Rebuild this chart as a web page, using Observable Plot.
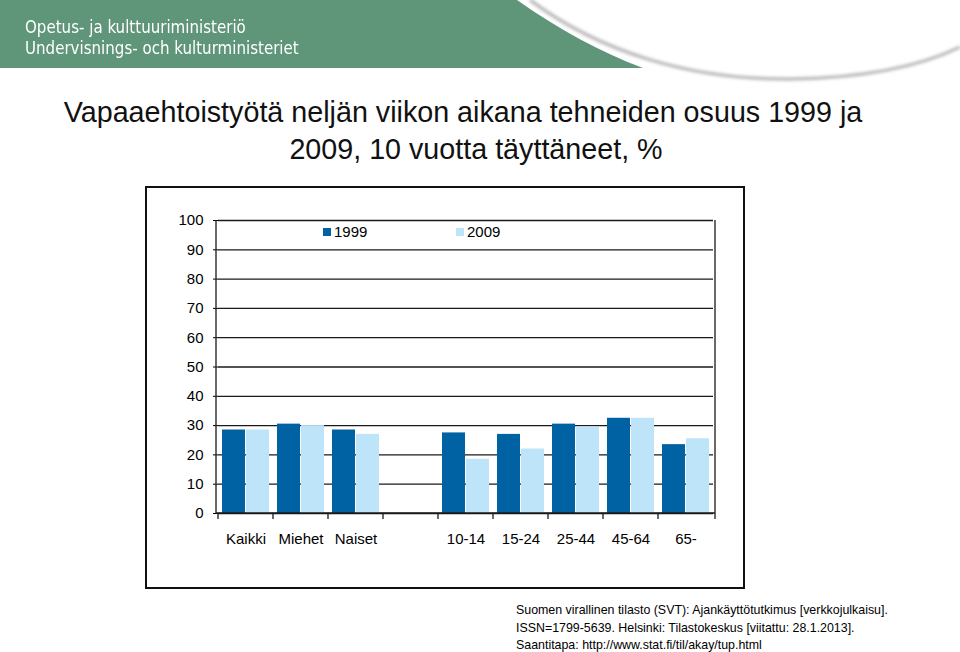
<!DOCTYPE html>
<html><head><meta charset="utf-8">
<script src="https://cdn.jsdelivr.net/npm/d3@7"></script>
<script src="https://cdn.jsdelivr.net/npm/@observablehq/plot@0.6"></script>
<style>
html,body{margin:0;padding:0;}
body{width:960px;height:652px;background:#fff;position:relative;overflow:hidden;font-family:"Liberation Sans",Arial,sans-serif;}
#header{position:absolute;left:0;top:0;}
.hdr{position:absolute;left:25px;color:#fff;font-family:"Liberation Sans Narrow","DejaVu Sans Condensed",sans-serif;font-size:18px;white-space:nowrap;line-height:20px;transform:scaleX(0.93);transform-origin:left center;}
.title{position:absolute;font-size:28.7px;color:#111;white-space:nowrap;transform:translateX(-50%);line-height:32px;}
#box{position:absolute;left:145px;top:186px;width:600px;height:403px;box-sizing:border-box;border:2px solid #111;}
#chart{position:absolute;left:0;top:0;}
#legend{position:absolute;top:224px;left:0;font-family:"Liberation Sans",Arial,sans-serif;font-size:15px;color:#000;}
.lg{position:absolute;white-space:nowrap;display:flex;align-items:center;line-height:16px;}
.lg span.sw{display:inline-block;width:8px;height:8px;margin-right:3px;}
#caption{position:absolute;left:516px;top:602px;font-size:12.4px;line-height:17.5px;color:#000;white-space:nowrap;}
</style></head><body>
<svg id="header" width="960" height="90">
  <defs><filter id="blur" x="-10%" y="-50%" width="120%" height="200%"><feGaussianBlur stdDeviation="1.6"/></filter></defs>
  <path d="M0,0 H517 C560,30 600,52 643,68 H0 Z" fill="#5f9679"/>
  <path d="M530,0 C600,52 690,80 790,79 C870,78 925,64 960,47" fill="none" stroke="#bdbdbd" stroke-width="3.5" filter="url(#blur)"/>
</svg>
<div class="hdr" style="top:17px">Opetus- ja kulttuuriministeriö</div>
<div class="hdr" style="top:38px">Undervisnings- och kulturministeriet</div>
<div class="title" style="left:463px;top:96px">Vapaaehtoistyötä neljän viikon aikana tehneiden osuus 1999 ja</div>
<div class="title" style="left:476px;top:133px">2009, 10 vuotta täyttäneet, %</div>
<div id="box"><div id="chart"></div></div>
<div id="legend"></div>
<div id="caption">Suomen virallinen tilasto (SVT): Ajankäyttötutkimus [verkkojulkaisu].<br>ISSN=1799-5639. Helsinki: Tilastokeskus [viitattu: 28.1.2013].<br>Saantitapa: http://www.stat.fi/til/akay/tup.html</div>
<script>
const categories = ["Kaikki", "Miehet", "Naiset", "", "10-14", "15-24", "25-44", "45-64", "65-"];
const years = ["1999", "2009"];
const values1999 = [28.5, 30.5, 28.5, null, 27.5, 27, 30.5, 32.5, 23.5];
const values2009 = [28.5, 30, 27, null, 18.5, 22, 29.5, 32.5, 25.5];
const yTicks = [0, 10, 20, 30, 40, 50, 60, 70, 80, 90, 100];
const colors = ["#0062a2", "#bde4f9"];
const legendX = [323, 456];

const data = categories.flatMap((c, i) => [
  {category: c, year: years[0], value: values1999[i]},
  {category: c, year: years[1], value: values2009[i]}
]);

const plot = Plot.plot({
  width: 596, height: 399,
  marginLeft: 69, marginRight: 28, marginTop: 32, marginBottom: 74,
  style: {fontFamily: "'Liberation Sans', Arial, sans-serif", fontSize: "15px", color: "#000", background: "transparent", overflow: "visible"},
  facet: {data, x: "category"},
  fx: {domain: categories, padding: 0, label: null, tickSize: 0, tickPadding: 20},
  x: {domain: years, axis: null, paddingInner: 0.03, paddingOuter: 0.14},
  y: {domain: [0, 100], ticks: yTicks, tickSize: 5, tickPadding: 10, label: null},
  color: {domain: years, range: colors},
  marks: [
    Plot.ruleY(yTicks, {stroke: "#1a1a1a", strokeWidth: 1.3}),
    Plot.barY(data, {x: "year", y: "value", fill: "year"})
  ]
});
document.getElementById("chart").appendChild(plot);

// plot-area frame and category boundary ticks, placed from the plot's own scales
const fx = plot.scale("fx"), ys = plot.scale("y");
const [xl, xr] = fx.range;
const [yb, yt] = ys.range;
const svg = d3.select(plot);
const g = svg.append("g").attr("stroke", "#1a1a1a").attr("stroke-width", 1.3);
g.append("line").attr("x1", xl).attr("x2", xl).attr("y1", yt).attr("y2", yb);
g.append("line").attr("x1", xr).attr("x2", xr).attr("y1", yt).attr("y2", yb);
g.append("line").attr("x1", xl).attr("x2", xr).attr("y1", yb).attr("y2", yb);
const bounds = categories.map(c => fx.apply(c)).concat([xr]);
g.selectAll("line.b").data(bounds).join("line").attr("class", "b")
  .attr("x1", d => d).attr("x2", d => d).attr("y1", yb).attr("y2", yb + 6);

// legend
const lg = document.getElementById("legend");
years.forEach((yr, i) => {
  const el = document.createElement("div");
  el.className = "lg";
  el.style.left = legendX[i] + "px";
  el.innerHTML = `<span class="sw" style="background:${colors[i]}"></span>${yr}`;
  lg.appendChild(el);
});
</script>
</body></html>
